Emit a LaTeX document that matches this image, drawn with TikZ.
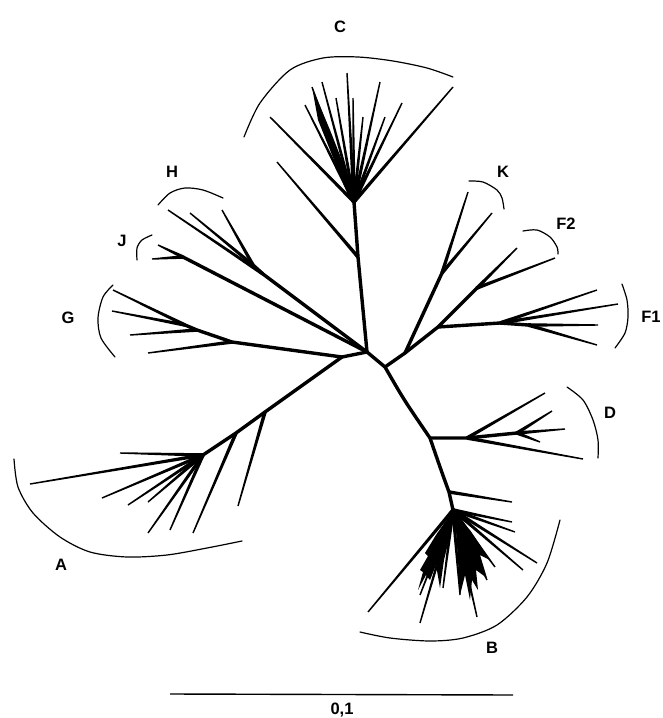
\documentclass[tikz,border=0pt]{standalone}
\usepackage{fontspec}
\setmainfont{Liberation Sans}
\usetikzlibrary{calc}
\tikzset{
  ib/.style={line width=3.4pt, line cap=round, line join=round},
  brk/.style={line width=1.2pt, line cap=round},
  lab/.style={font=\fontsize{16.5}{18}\selectfont\bfseries, inner sep=0pt},
}
\newcommand\tleaf[2]{\fill ($(#1)!1.8pt!90:(#2)$) -- ($(#2)!0.7pt!-90:(#1)$) -- ($(#2)!0.7pt!90:(#1)$) -- ($(#1)!1.8pt!-90:(#2)$) -- cycle;}
\begin{document}
\begin{tikzpicture}[x=1pt,y=-1pt]
\useasboundingbox (0,0) rectangle (662,718);
% internal nodes
\coordinate (O) at (367,352);
\coordinate (c1) at (358,257);
\coordinate (hubC) at (354,202);
\coordinate (cL) at (277,162);
\coordinate (hH) at (263,274);
\coordinate (hH2) at (253,265);
\coordinate (hJ) at (183,257);
\coordinate (N1) at (342,357);
\coordinate (gJ) at (232,342);
\coordinate (gJ2) at (197,330);
\coordinate (gJ3) at (185,325);
\coordinate (a1) at (265,412);
\coordinate (a2) at (236,433);
\coordinate (hubA) at (203,455);
\coordinate (P) at (385,367);
\coordinate (Q) at (405,353);
\coordinate (kJ) at (442,273);
\coordinate (R) at (438,327);
\coordinate (S) at (477,288);
\coordinate (F1a) at (500,323);
\coordinate (F1b) at (528,325);
\coordinate (m1) at (404,400);
\coordinate (dJ) at (430,438);
\coordinate (dJ2) at (467,438);
\coordinate (dJ3) at (517,433);
\coordinate (m2) at (441,470);
\coordinate (bJ1) at (449,492);
\coordinate (hubB) at (453,510);
% leaves
\foreach \x/\y [count=\i] in {270/117,305/105,312/87,322/82,336/98,347/73,353/98,363/117,380/82,385/117,402/103,453/87}
  {\coordinate (C\i) at (\x,\y);}
\coordinate (Hm) at (168,210);
\coordinate (H1) at (190,213);
\coordinate (H2) at (222,210);
\coordinate (Jm) at (158,245);
\coordinate (J1) at (152,259);
\coordinate (G1) at (148,353);
\coordinate (G2) at (130,335);
\coordinate (G3) at (113,290);
\coordinate (G4) at (112,311);
\foreach \x/\y [count=\i] in {120/453,30/484,102/498,128/505,148/502,148/533,170/530}
  {\coordinate (A\i) at (\x,\y);}
\coordinate (A8) at (238,506);
\coordinate (A9) at (193,533);
\coordinate (K1) at (468,192);
\coordinate (K2) at (492,213);
\coordinate (F21) at (517,248);
\coordinate (F22) at (555,258);
\coordinate (F11) at (597,290);
\coordinate (F12) at (618,304);
\coordinate (F13) at (598,325);
\coordinate (F14) at (597,345);
\coordinate (D1) at (545,393);
\coordinate (D2) at (552,411);
\coordinate (D3) at (565,429);
\coordinate (D4) at (540,442);
\coordinate (D5) at (583,459);
\coordinate (B0) at (512,502);
\foreach \x/\y [count=\i] in {512/522,515/532,537/563,523/570,495/567,487/580,477/617,460/595,443/588,420/595,420/623,368/612}
  {\coordinate (B\i) at (\x,\y);}

% internal branches
\draw[ib] (O) -- (c1) -- (hubC);
\draw[ib] (O) -- (hH) -- (hH2);
\draw[ib] (O) -- (hJ);
\draw[ib] (O) -- (N1) -- (gJ) -- (gJ2) -- (gJ3);
\draw[ib] (N1) -- (a1) -- (a2) -- (hubA);
\draw[ib] (O) -- (P) -- (Q) -- (kJ);
\draw[ib] (Q) -- (R) -- (S);
\draw[ib] (R) -- (F1a) -- (F1b);
\draw[ib] (P) .. controls (m1) .. (dJ) .. controls (m2) .. (bJ1) -- (hubB);
\draw[ib] (dJ) -- (dJ2) -- (dJ3);

% leaves
\tleaf{c1}{cL}
\foreach \i in {1,...,12} {\tleaf{hubC}{C\i}}
\tleaf{hH}{Hm}
\tleaf{hH2}{H1}
\tleaf{hH2}{H2}
\tleaf{hJ}{Jm}
\tleaf{hJ}{J1}
\tleaf{gJ}{G1}
\tleaf{gJ2}{G2}
\tleaf{gJ3}{G3}
\tleaf{gJ3}{G4}
\foreach \i in {1,...,7} {\tleaf{hubA}{A\i}}
\tleaf{a1}{A8}
\tleaf{a2}{A9}
\tleaf{kJ}{K1}
\tleaf{kJ}{K2}
\tleaf{S}{F21}
\tleaf{S}{F22}
\tleaf{F1a}{F11}
\tleaf{F1a}{F12}
\tleaf{F1b}{F13}
\tleaf{F1b}{F14}
\tleaf{dJ2}{D1}
\tleaf{dJ3}{D2}
\tleaf{dJ3}{D3}
\tleaf{dJ3}{D4}
\tleaf{dJ2}{D5}
\tleaf{bJ1}{B0}
\foreach \i in {1,...,12} {\tleaf{hubB}{B\i}}
% dense B fan
\fill (452,512) -- (436,535) -- (425,553) -- (428,556) -- (420,570) -- (423,572) -- (418,590) -- (426,575) -- (430,580) -- (436,565) -- (440,588) -- (444,560) -- (450,535) -- cycle;
\fill (455,515) -- (458,560) -- (460,595) -- (465,575) -- (470,600) -- (472,580) -- (478,590) -- (476,570) -- (487,578) -- (480,555) -- (490,560) -- (470,530) -- cycle;
% dense C core
\fill (350,200) -- (318,120) -- (312,87) -- (330,130) -- (356,196) -- cycle;

% brackets
\draw[brk] plot[smooth] coordinates {(244,137) (260,103) (290,70) (323,58) (358,57) (393,61) (427,68) (453,77)};
\draw[brk] plot[smooth] coordinates {(158,205) (170,193) (185,188) (203,190) (223,198)};
\draw[brk] plot[smooth] coordinates {(152,235) (142,240) (137,248) (137,260)};
\draw[brk] plot[smooth] coordinates {(113,285) (103,297) (98,318) (101,338) (115,357)};
\draw[brk] plot[smooth] coordinates {(469,181) (483,182) (497,190) (502,198) (504,209)};
\draw[brk] plot[smooth] coordinates {(523,231) (537,230) (550,237) (557,247) (558,254)};
\draw[brk] plot[smooth] coordinates {(622,284) (627,300) (628,317) (625,333) (615,348)};
\draw[brk] plot[smooth] coordinates {(567,387) (583,400) (593,420) (598,440) (598,458)};
\draw[brk] plot[smooth] coordinates {(14,459) (18,487) (33,513) (60,537) (90,552) (127,557) (167,555) (207,548) (242,541)};
\draw[brk] plot[smooth] coordinates {(360,632) (390,638) (430,641) (463,638) (497,625) (527,597) (547,563) (560,520)};

% labels
\node[lab] (lC) at (340,27) {C};
\node[lab] (lH) at (172,172) {H};
\node[lab] (lJ) at (122,241) {J};
\node[lab] (lG) at (68,318) {G};
\node[lab] (lK) at (503,172) {K};
\node[lab] (lF2) at (566,224) {F2};
\node[lab] (lF1) at (651,317) {F1};
\node[lab] (lD) at (610,413) {D};
\node[lab] (lA) at (61,565) {A};
\node[lab] (lB) at (492,648) {B};

% scale bar
\coordinate (s1) at (170,694);
\coordinate (s2) at (513,695);
\draw[line width=1.4pt] (s1) -- (s2);
\node[lab] (lS) at (342,710) {0,1};
\end{tikzpicture}
\end{document}
